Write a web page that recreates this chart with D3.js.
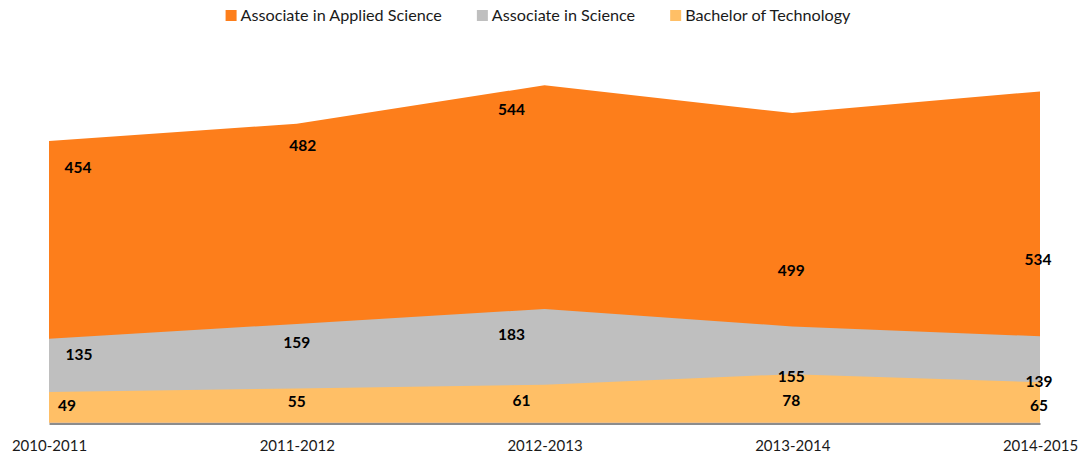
<!DOCTYPE html>
<html>
<head>
<meta charset="utf-8">
<script src="https://cdn.jsdelivr.net/npm/d3@7"></script>
<style>
  body { margin: 0; background: #fff; }
  text { font-family: Lato, "Open Sans", sans-serif; }
</style>
</head>
<body>
<svg id="chart" width="1080" height="459"></svg>
<script>
// Degrees awarded per academic year
const years = ["2010-2011", "2011-2012", "2012-2013", "2013-2014", "2014-2015"];
const appliedScience = [454, 482, 544, 499, 534];
const science = [135, 159, 183, 155, 139];
const technology = [49, 55, 61, 78, 65];
const seriesNames = ["Associate in Applied Science", "Associate in Science", "Bachelor of Technology"];
const seriesColors = ["#fd7e1b", "#bfbfbf", "#ffbf66"];

const svg = d3.select("#chart");

const x = d3.scalePoint().domain(years).range([49, 1040]);
const y = d3.scaleLinear().domain([0, 600]).range([422.5, 50.5]);

const series = [appliedScience, science, technology].map((values, k) => ({
  name: seriesNames[k], color: seriesColors[k], values
}));

// Each series is filled from zero, drawn back to front
const area = d3.area()
  .x((d, i) => x(years[i]))
  .y0(y(0))
  .y1(d => y(d));

svg.append("g").selectAll("path")
  .data(series)
  .join("path")
  .attr("d", s => area(s.values))
  .attr("fill", s => s.color);

// Category axis along the bottom
const axis = svg.append("g")
  .attr("transform", `translate(0,${y(0) + 1})`)
  .call(d3.axisBottom(x).tickSize(0).tickSizeOuter(0).tickPadding(17));
axis.select(".domain").attr("stroke", "#8c8c8c").attr("stroke-width", 2);
axis.selectAll("text")
  .attr("font-family", "Lato, sans-serif")
  .attr("font-size", 15)
  .attr("fill", "#1a1a1a");

// Value label placement: offset of each label centre from its data point
const labelNudge = [
  [[29, 26], [6, 21], [-33, 24], [-1, 157], [-2, 168]],
  [[30, 15], [0, 18], [-33, 25], [-1, 50], [-1, 45]],
  [[18, 13], [0, 13], [-23, 15], [-1, 26], [-1, 23]]
];

const labels = svg.append("g");
series.forEach((s, k) => {
  labels.selectAll(null)
    .data(s.values)
    .join("text")
    .attr("x", (d, i) => x(years[i]) + labelNudge[k][i][0])
    .attr("y", (d, i) => y(d) + labelNudge[k][i][1])
    .attr("text-anchor", "middle")
    .attr("dominant-baseline", "central")
    .attr("font-weight", "bold")
    .attr("font-size", 15.5)
    .attr("fill", "#000")
    .text(d => d);
});

// Legend, centred across the top
const legend = svg.append("g");
const items = legend.selectAll("g")
  .data(series)
  .join("g");
items.append("rect")
  .attr("width", 11).attr("height", 11)
  .attr("y", 10)
  .attr("fill", s => s.color);
items.append("text")
  .attr("x", 15)
  .attr("y", 21)
  .attr("font-size", 16.2)
  .attr("fill", "#1a1a1a")
  .text(s => s.name);

let cursor = 0;
items.each(function () {
  const g = d3.select(this);
  g.attr("transform", `translate(${cursor},0)`);
  const w = 15 + g.select("text").node().getComputedTextLength();
  cursor += w + 35;
});
const total = cursor - 35;
legend.attr("transform", `translate(${538 - total / 2},0)`);
</script>
</body>
</html>
